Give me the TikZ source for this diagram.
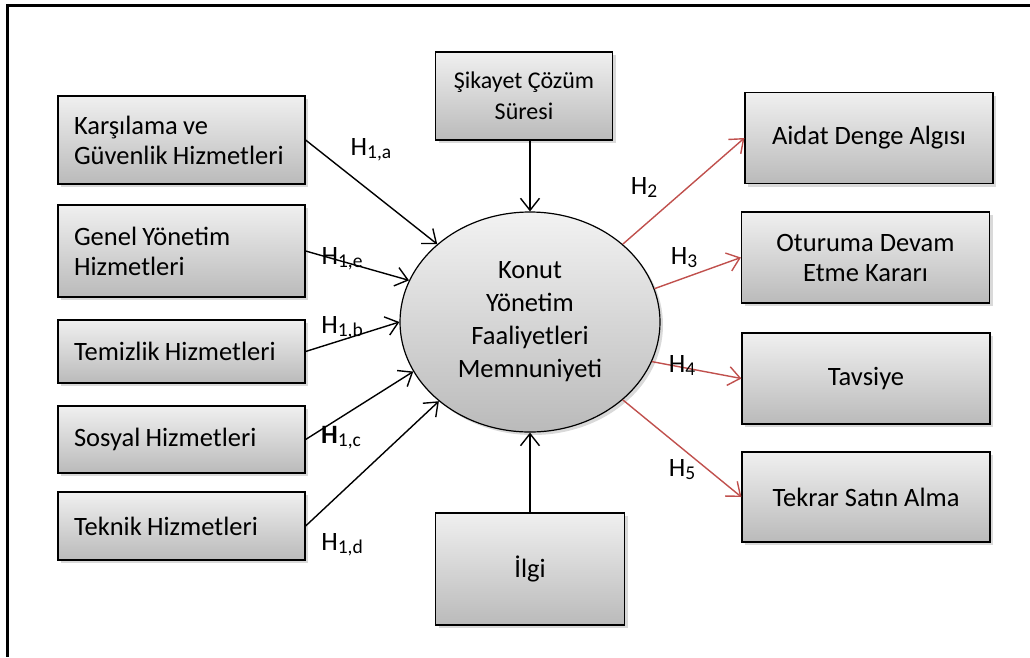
\documentclass[tikz,border=0pt]{standalone}
\usepackage{fontspec}
\setmainfont{Carlito}
\usetikzlibrary{arrows.meta, positioning, shapes.geometric, shadows}
\definecolor{hred}{RGB}{192,80,77}
\newcommand{\hyp}[2][H]{#1\lower3pt\hbox{\fontsize{19.5}{19.5}\selectfont #2}}

\begin{document}
\begin{tikzpicture}[x=1pt,y=-1pt]
\tikzset{
  box/.style={draw=black, line width=1.2pt, top color=black!6, bottom color=black!27,
    drop shadow={opacity=0.3, shadow xshift=3pt, shadow yshift=-3pt},
    font=\fontsize{26.5}{30}\selectfont, inner sep=0pt, align=center},
  lbox/.style={box, minimum width=247pt, text width=215pt, align=left,
    execute at begin node={\spaceskip=0.2em\relax}},
  rbox/.style={box, minimum width=248pt, minimum height=91pt},
  hlab/.style={font=\fontsize{26.5}{26.5}\selectfont, inner sep=0pt},
  link/.style={line width=1.4pt, -{Straight Barb[length=12pt,width=19pt]}},
  redlink/.style={link, draw=hred}
}
\useasboundingbox (0,0) rectangle (1030,657);

\coordinate (frameR) at (1030,5);
\coordinate (frameC) at (7,5);
\coordinate (frameB) at (7,657);
\draw[line width=3pt] (frameR) -- (frameC) -- (frameB);

\node[ellipse, draw=black, line width=1.2pt, top color=black!5, bottom color=black!27,
  drop shadow={opacity=0.3, shadow xshift=3pt, shadow yshift=-3pt},
  minimum width=260pt, minimum height=220pt, inner sep=0pt, align=center,
  font=\fontsize{26.5}{33}\selectfont] (kym) at (530,322) {Konut\\Yönetim\\Faaliyetleri\\Memnuniyeti};

\node[box, minimum width=177pt, minimum height=88pt, font=\fontsize{24}{31}\selectfont] (sikayet) at (524,96) {Şikayet Çözüm\\Süresi};
\node[box, minimum width=189pt, minimum height=112pt] (ilgi) at (530,569) {İlgi};

\node[lbox, minimum height=88pt] (karsilama) at (181.5,140) {Karşılama ve\\Güvenlik Hizmetleri};
\node[lbox, minimum height=92pt] (genel) at (181.5,251) {Genel Yönetim\\Hizmetleri};
\node[lbox, minimum height=63pt] (temizlik) at (181.5,351.5) {Temizlik Hizmetleri};
\node[lbox, minimum height=67pt] (sosyal) at (181.5,439.5) {Sosyal Hizmetleri};
\node[lbox, minimum height=68pt] (teknik) at (181.5,526) {Teknik Hizmetleri};

\node[rbox] (aidat) at (869,138) {Aidat Denge Algısı};
\node[rbox] (oturuma) at (865.5,257.5) {Oturuma Devam\\Etme Kararı};
\node[rbox] (tavsiye) at (866,378.5) {Tavsiye};
\node[rbox, minimum height=90pt] (tekrar) at (866,497) {Tekrar Satın Alma};

\draw[link] (karsilama.east) -- (kym.140);
\draw[link] (genel.east) -- (kym.161);
\draw[link] (temizlik.east) -- (kym.180);
\draw[link] (sosyal.east) -- (kym.203);
\draw[link] (teknik.east) -- (kym.221);
\draw[link] (kym.north |- sikayet.south) -- (kym.north);
\draw[link] (ilgi.north) -- (kym.south);

\draw[redlink] (kym.40) -- (aidat.west);
\draw[redlink] (kym.15) -- (oturuma.west);
\draw[redlink] (kym.-18) -- (tavsiye.west);
\draw[redlink] (kym.-40) -- (tekrar.west);

\node[hlab] (h1a) at (371,150) {\hyp{1,a}};
\node[hlab] (h1e) at (342,259) {\hyp{1,e}};
\node[hlab] (h1b) at (342,328) {\hyp{1,b}};
\node[hlab] (h1c) at (341,438) {\hyp[\textbf{H}]{1,c}};
\node[hlab] (h1d) at (342,545) {\hyp{1,d}};
\node[hlab] (h2) at (644,187) {\hyp{2}};
\node[hlab] (h3) at (684,258) {\hyp{3}};
\node[hlab] (h4) at (682,365) {\hyp{4}};
\node[hlab] (h5) at (682,470) {\hyp{5}};
\end{tikzpicture}
\end{document}
